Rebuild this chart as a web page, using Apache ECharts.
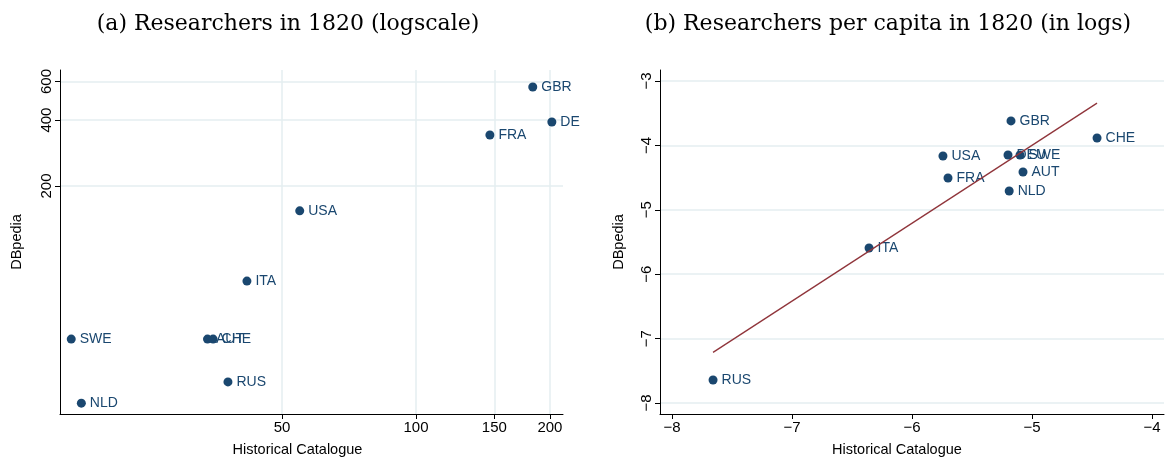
<!DOCTYPE html>
<html>
<head>
<meta charset="utf-8">
<script src="https://cdn.jsdelivr.net/npm/echarts@6/dist/echarts.min.js"></script>
<style>
  html, body { margin: 0; padding: 0; background: #fff; }
  #chart { width: 1170px; height: 464px; }
</style>
</head>
<body>
<div id="chart"></div>
<script>
// Panel (a): researcher counts in 1820, both axes on log scale
const countriesA = ['GBR', 'DE', 'FRA', 'USA', 'ITA', 'SWE', 'AUT', 'CHE', 'RUS', 'NLD'];
const catalogueA = [183, 202, 146.6, 54.8, 41.7, 16.8, 34.0, 35.0, 37.8, 17.7];
const dbpediaA   = [566, 392, 342, 154, 73.6, 40, 40, 40, 25.5, 20.4];
const xTicksA = [50, 100, 150, 200];
const yTicksA = [200, 400, 600];

// Panel (b): researchers per capita in 1820 (logs)
const countriesB = ['GBR', 'CHE', 'USA', 'DEU', 'SWE', 'AUT', 'FRA', 'NLD', 'ITA', 'RUS'];
const catalogueB = [-5.175, -4.458, -5.742, -5.20, -5.10, -5.075, -5.70, -5.19, -6.358, -7.658];
const dbpediaB   = [-3.62, -3.885, -4.165, -4.15, -4.15, -4.413, -4.506, -4.708, -5.593, -7.643];
const xTicksB = [-8, -7, -6, -5, -4];
const yTicksB = [-8, -7, -6, -5, -4, -3];

// Least-squares fit of DBpedia on the catalogue, drawn across the data range
function olsFit(xs, ys) {
  const n = xs.length;
  const mx = xs.reduce((a, b) => a + b, 0) / n;
  const my = ys.reduce((a, b) => a + b, 0) / n;
  let sxy = 0, sxx = 0;
  for (let i = 0; i < n; i++) {
    sxy += (xs[i] - mx) * (ys[i] - my);
    sxx += (xs[i] - mx) * (xs[i] - mx);
  }
  const b = sxy / sxx;
  const a = my - b * mx;
  const x0 = Math.min(...xs), x1 = Math.max(...xs);
  return [[x0, a + b * x0], [x1, a + b * x1]];
}

const NAVY = '#1a476f';
const MAROON = '#90353b';
const GRID = '#e4eef0';
const SANS = '"Liberation Sans", Arial, sans-serif';
const SERIF = '"DejaVu Serif", "Liberation Serif", serif';
const minus = v => String(v).replace('-', '\u2212');

function pts(xs, ys, names) {
  return xs.map((x, i) => ({ value: [x, ys[i]], name: names[i] }));
}

const pointLabel = {
  show: true,
  position: 'right',
  distance: 4,
  formatter: p => p.name,
  color: NAVY,
  fontFamily: SANS,
  fontSize: 14
};

const axisLineStyle = { show: true, lineStyle: { color: '#000', width: 1 } };
const tickStyle = { show: true, length: 5, lineStyle: { color: '#000' } };
const labelStyle = { color: '#000', fontFamily: SANS, fontSize: 15 };
const nameStyle = { color: '#000', fontFamily: SANS, fontSize: 14.5 };

const chart = echarts.init(document.getElementById('chart'), null, { renderer: 'canvas' });

chart.setOption({
  animation: false,
  backgroundColor: '#fff',
  title: [
    { text: '(a) Researchers in 1820 (logscale)', left: 283, top: 8, textAlign: 'center',
      textStyle: { fontFamily: SERIF, fontWeight: 'normal', fontSize: 22, color: '#000' } },
    { text: '(b) Researchers per capita in 1820 (in logs)', left: 883, top: 8, textAlign: 'center',
      textStyle: { fontFamily: SERIF, fontWeight: 'normal', fontSize: 22, color: '#000' } }
  ],
  grid: [
    { left: 60, right: 607, top: 70, bottom: 50 },
    { left: 660, right: 6, top: 70, bottom: 50 }
  ],
  xAxis: [
    {
      gridIndex: 0, type: 'log', logBase: 10, min: 15.85, max: 214,
      name: 'Historical Catalogue', nameLocation: 'middle', nameGap: 28,
      nameTextStyle: Object.assign({ padding: [0, 28, 0, 0] }, nameStyle),
      axisLine: axisLineStyle,
      axisTick: Object.assign({ customValues: xTicksA }, tickStyle),
      axisLabel: Object.assign({ customValues: xTicksA, margin: 6, formatter: v => String(Math.round(v)) }, labelStyle),
      splitLine: { show: false }
    },
    {
      gridIndex: 1, type: 'value', min: -8.1, max: -3.9,
      name: 'Historical Catalogue', nameLocation: 'middle', nameGap: 28,
      nameTextStyle: Object.assign({ padding: [0, 30, 0, 0] }, nameStyle),
      axisLine: axisLineStyle,
      axisTick: Object.assign({ customValues: xTicksB }, tickStyle),
      axisLabel: Object.assign({ customValues: xTicksB, margin: 6, formatter: minus }, labelStyle),
      splitLine: { show: false }
    }
  ],
  yAxis: [
    {
      gridIndex: 0, type: 'log', logBase: 10, min: 18.2, max: 677,
      name: 'DBpedia', nameLocation: 'middle', nameGap: 36, nameRotate: 90,
      nameTextStyle: nameStyle,
      axisLine: axisLineStyle,
      axisTick: Object.assign({ customValues: yTicksA }, tickStyle),
      axisLabel: Object.assign({ customValues: yTicksA, rotate: 90, margin: 6, formatter: v => String(Math.round(v)) }, labelStyle),
      splitLine: { show: false }
    },
    {
      gridIndex: 1, type: 'value', min: -8.17, max: -2.83,
      name: 'DBpedia', nameLocation: 'middle', nameGap: 34, nameRotate: 90,
      nameTextStyle: nameStyle,
      axisLine: axisLineStyle,
      axisTick: Object.assign({ customValues: yTicksB }, tickStyle),
      axisLabel: Object.assign({ customValues: yTicksB, rotate: 90, margin: 6, formatter: minus }, labelStyle),
      splitLine: { show: false }
    }
  ],
  series: [
    // light reference lines at the labelled ticks, kept beneath the marks
    {
      type: 'scatter', xAxisIndex: 0, yAxisIndex: 0, data: [], silent: true, z: 0,
      markLine: {
        silent: true, symbol: 'none', label: { show: false }, z: 0,
        lineStyle: { color: GRID, width: 1.5, type: 'solid' },
        emphasis: { disabled: true },
        data: xTicksA.map(v => ({ xAxis: v })).concat(yTicksA.map(v => ({ yAxis: v })))
      }
    },
    {
      type: 'scatter', xAxisIndex: 1, yAxisIndex: 1, data: [], silent: true, z: 0,
      markLine: {
        silent: true, symbol: 'none', label: { show: false }, z: 0,
        lineStyle: { color: GRID, width: 1.5, type: 'solid' },
        emphasis: { disabled: true },
        data: yTicksB.map(v => ({ yAxis: v }))
      }
    },
    {
      name: 'Researchers 1820', type: 'scatter', xAxisIndex: 0, yAxisIndex: 0,
      symbolSize: 9, itemStyle: { color: NAVY, opacity: 1 },
      label: pointLabel, z: 5,
      data: pts(catalogueA, dbpediaA, countriesA)
    },
    {
      name: 'Fit', type: 'line', xAxisIndex: 1, yAxisIndex: 1,
      showSymbol: false, symbol: 'none',
      lineStyle: { color: MAROON, width: 1.3 },
      data: olsFit(catalogueB, dbpediaB),
      z: 6
    },
    {
      name: 'Researchers per capita 1820', type: 'scatter', xAxisIndex: 1, yAxisIndex: 1,
      symbolSize: 9, itemStyle: { color: NAVY, opacity: 1 },
      label: pointLabel,
      data: pts(catalogueB, dbpediaB, countriesB),
      z: 5
    }
  ]
});
</script>
</body>
</html>
